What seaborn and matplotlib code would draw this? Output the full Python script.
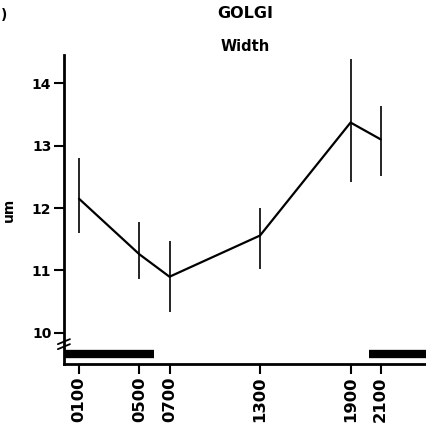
import matplotlib
matplotlib.use("Agg")
import matplotlib.pyplot as plt
import seaborn as sns
import pandas as pd
import numpy as np

hours = [1, 5, 7, 13, 19, 21]
tick_labels = ["0100", "0500", "0700", "1300", "1900", "2100"]
width_um = [12.15, 11.26, 10.9, 11.56, 13.37, 13.1]
err_low = [11.6, 10.86, 10.33, 11.03, 12.41, 12.52]
err_high = [12.8, 11.77, 11.48, 12.0, 14.38, 13.64]
dark_periods = [(0, 6), (20.25, 24)]

sns.set_theme(style="ticks")
plt.rcParams['font.family'] = ['DejaVu Sans']
plt.rcParams['text.color'] = 'black'
plt.rcParams['xtick.color'] = 'black'
plt.rcParams['ytick.color'] = 'black'

fig = plt.figure(figsize=(4.26, 4.34), dpi=100)
ax = fig.add_axes([0.150, 0.161, 0.850, 0.712])

df = pd.DataFrame({"hour": hours, "width": width_um})
sns.lineplot(data=df, x="hour", y="width", ax=ax, color="black", linewidth=1.6)
ax.vlines(hours, err_low, err_high, color="black", linewidth=1.2)

for x0, x1 in dark_periods:
    ax.hlines(9.66, x0, x1, color="black", linewidth=6)

ax.set_xlim(0, 24)
ax.set_ylim(9.5, 14.45)
ax.set_yticks([10, 11, 12, 13, 14])
ax.set_yticklabels(["10", "11", "12", "13", "14"], fontsize=10, fontweight="bold")
ax.set_xticks(hours)
ax.set_xticklabels(tick_labels, rotation=90, fontsize=11.8, fontweight="bold")
ax.tick_params(axis="both", direction="out", length=7, width=1.5, color="black", pad=2)
ax.set_xlabel("")
ax.set_ylabel("")

for s in ["top", "right"]:
    ax.spines[s].set_visible(False)
for s in ["left", "bottom"]:
    ax.spines[s].set_linewidth(2)
    ax.spines[s].set_color("black")

# axis break marks
ax.plot([-0.4, 0.4], [9.82, 9.9], color="black", lw=1.3, clip_on=False)
ax.plot([-0.4, 0.4], [9.74, 9.82], color="black", lw=1.3, clip_on=False)

fig.text(0.575, 0.968, "GOLGI", ha="center", va="center", fontsize=11.5, fontweight="bold")
fig.text(0.575, 0.894, "Width", ha="center", va="center", fontsize=10.5, fontweight="bold")
fig.text(0.002, 0.965, ")", ha="left", va="center", fontsize=10, fontweight="bold")
fig.text(0.02, 0.516, "um", ha="center", va="center", rotation=90, fontsize=10, fontweight="bold")

fig.savefig("out.png", dpi=100)
